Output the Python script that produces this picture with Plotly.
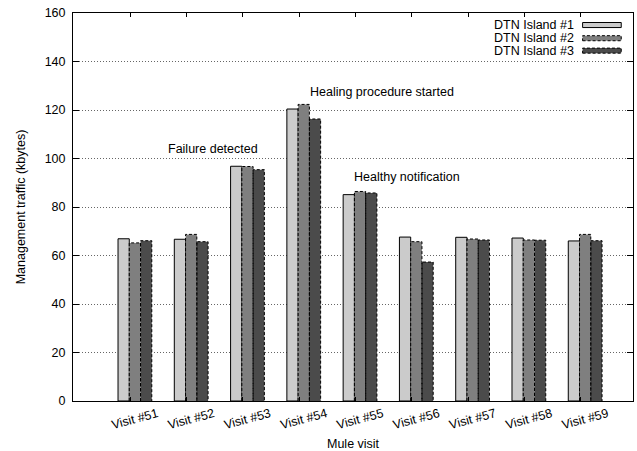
import plotly.graph_objects as go

# Management traffic per mule visit, one value per DTN island (kbytes)
visits = ["Visit #51", "Visit #52", "Visit #53", "Visit #54", "Visit #55",
          "Visit #56", "Visit #57", "Visit #58", "Visit #59"]
island1 = [66.9, 66.7, 96.8, 120.4, 85.1, 67.6, 67.5, 67.2, 66.0]
island2 = [65.2, 68.7, 96.7, 122.3, 86.4, 65.7, 66.8, 66.4, 68.7]
island3 = [66.1, 65.7, 95.4, 116.3, 85.8, 57.3, 66.4, 66.3, 66.1]
series_names = ["DTN Island #1", "DTN Island #2", "DTN Island #3"]

FONT = "Liberation Sans, Arial, Helvetica, sans-serif"
FS = 12.5
fills = ["#cbcbcb", "#7f7f7f", "#4b4b4b"]
dashes = [None, "3px,2px", "3px,2px"]
BAR_W = 0.2
pos = list(range(len(visits)))

fig = go.Figure()

for j, (name, vals) in enumerate(zip(series_names, [island1, island2, island3])):
    off = -0.3 + BAR_W * j
    fig.add_trace(go.Bar(
        x=pos, y=vals, name=name, width=BAR_W, offset=off,
        marker=dict(color=fills[j],
                    line=dict(color="black", width=1 if dashes[j] is None else 0)),
        showlegend=False, hoverinfo="y",
    ))
    if dashes[j] is not None:
        # dashed outline around each bar of this series
        xs, ys = [], []
        for p, v in zip(pos, vals):
            x0, x1 = p + off, p + off + BAR_W
            xs += [x0, x0, x1, x1, None]
            ys += [0, v, v, 0, None]
        fig.add_trace(go.Scatter(
            x=xs, y=ys, mode="lines", showlegend=False, hoverinfo="skip",
            line=dict(color="black", width=1, dash=dashes[j]),
        ))

# event labels
notes = [
    ("Failure detected", 0.55, 103.8),
    ("Healing procedure started", 3.08, 127.3),
    ("Healthy notification", 3.86, 92.2),
]
for text, nx, ny in notes:
    fig.add_annotation(x=nx, y=ny, text=text, showarrow=False,
                       xanchor="left", yanchor="middle",
                       font=dict(family=FONT, size=FS, color="black"))

# x-axis caption
fig.add_annotation(xref="paper", yref="paper", x=0.5, y=-0.111, text="Mule visit",
                   showarrow=False, xanchor="center", yanchor="middle",
                   font=dict(family=FONT, size=FS, color="black"))

# key in the top-right corner: label on the left, swatch on the right
key_rows = [0.969, 0.935, 0.903]
for j, name in enumerate(series_names):
    fig.add_annotation(xref="paper", yref="paper", x=0.896, y=key_rows[j],
                       text=name, showarrow=False, xanchor="right", yanchor="middle",
                       borderpad=0, font=dict(family=FONT, size=FS, color="black"))
    line = dict(color="black", width=1)
    if dashes[j] is not None:
        line["dash"] = dashes[j]
    fig.add_shape(type="rect", xref="paper", yref="paper",
                  x0=0.910, x1=0.979, y0=key_rows[j] - 0.0065, y1=key_rows[j] + 0.0065,
                  fillcolor=fills[j], line=line)

fig.update_layout(
    width=637, height=451,
    margin=dict(l=73, r=4, t=13, b=50, autoexpand=False),
    plot_bgcolor="white", paper_bgcolor="white",
    barmode="overlay",
    font=dict(family=FONT, size=FS, color="black"),
    xaxis=dict(
        range=[-1.10, 8.85], automargin=False,
        tickvals=[p - 0.08 for p in pos], ticktext=visits,
        tickangle=-15, ticklabelshift=27,
        ticks="inside", ticklen=4, tickcolor="black",
        showline=True, linecolor="black", linewidth=1, mirror="ticks",
        showgrid=False, zeroline=False,
        tickfont=dict(size=FS),
    ),
    yaxis=dict(
        range=[0, 160], tickvals=list(range(0, 161, 20)), automargin=False,
        ticks="inside", ticklen=6, tickcolor="black",
        showline=True, linecolor="black", linewidth=1, mirror="ticks",
        showgrid=True, gridcolor="#666", griddash="1px,2px", gridwidth=1,
        zeroline=False, ticklabelstandoff=4,
        title=dict(text="Management traffic (kbytes)", standoff=16, font=dict(size=FS)),
        tickfont=dict(size=FS),
    ),
)

fig.write_html("out.html")
